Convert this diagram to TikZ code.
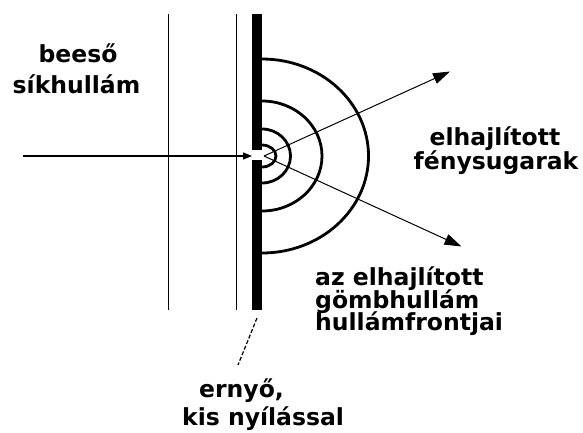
\documentclass[tikz,border=0pt]{standalone}
\usepackage{fontspec}
\setmainfont{DejaVu Sans}
\usetikzlibrary{arrows.meta}
\begin{document}
\begin{tikzpicture}[x=1pt,y=-1pt,
  lab/.style={inner sep=0pt,font=\fontsize{23.5}{23.5}\selectfont\bfseries},
  thin line/.style={line width=1.3pt},
  wave/.style={line width=2.8pt},
  ray/.style={line width=1pt,-{Triangle[length=17pt,width=11pt]}},
  inc/.style={line width=1.2pt,-{Triangle[length=9pt,width=7pt]}},
  leader/.style={line width=1.2pt,dash pattern=on 4pt off 2pt}]
\useasboundingbox (0,0) rectangle (583,432);
% plane wavefronts
\draw[thin line] (168.5,14) -- (168.5,310);
\draw[thin line] (236.8,14) -- (236.8,310);
% screen with aperture
\fill (251.7,14) rectangle (261.9,150);
\fill (251.7,159.5) rectangle (261.9,310);
% spherical wavefronts
\draw[wave] (262,59) arc[start angle=90,end angle=-90,x radius=106.5pt,y radius=97pt];
\draw[wave] (262,101) arc[start angle=90,end angle=-90,x radius=60pt,y radius=55pt];
\draw[wave] (262,129) arc[start angle=90,end angle=-90,x radius=28.5pt,y radius=27pt];
\draw[wave] (262,145) arc[start angle=90,end angle=-90,x radius=14pt,y radius=11pt];
% named points
\coordinate (src) at (23,156);
\coordinate (ap) at (252,156);
\coordinate (o) at (264,156);
\coordinate (t1) at (450,71.5);
\coordinate (t2) at (461.5,246.5);
\coordinate (l1) at (257,318);
\coordinate (l2) at (238,365);
% rays
\draw[inc] (src) -- (ap);
\draw[ray] (o) -- (t1);
\draw[ray] (o) -- (t2);
\draw[leader] (l1) -- (l2);
% labels
\node[lab,anchor=base] (b1) at (78,62) {beeső};
\node[lab,anchor=base] (b2) at (76.5,93) {síkhullám};
\node[lab,anchor=base] (e1) at (495,145) {elhajlított};
\node[lab,anchor=base] (e2) at (496,169) {fénysugarak};
\node[lab,anchor=base west] (g1) at (315,285) {az elhajlított};
\node[lab,anchor=base west] (g2) at (315,308) {gömbhullám};
\node[lab,anchor=base west] (g3) at (315,330) {hullámfrontjai};
\node[lab,anchor=base west] (s1) at (199,397) {ernyő,};
\node[lab,anchor=base west] (s2) at (182,425.5) {kis nyílással};
\end{tikzpicture}
\end{document}
